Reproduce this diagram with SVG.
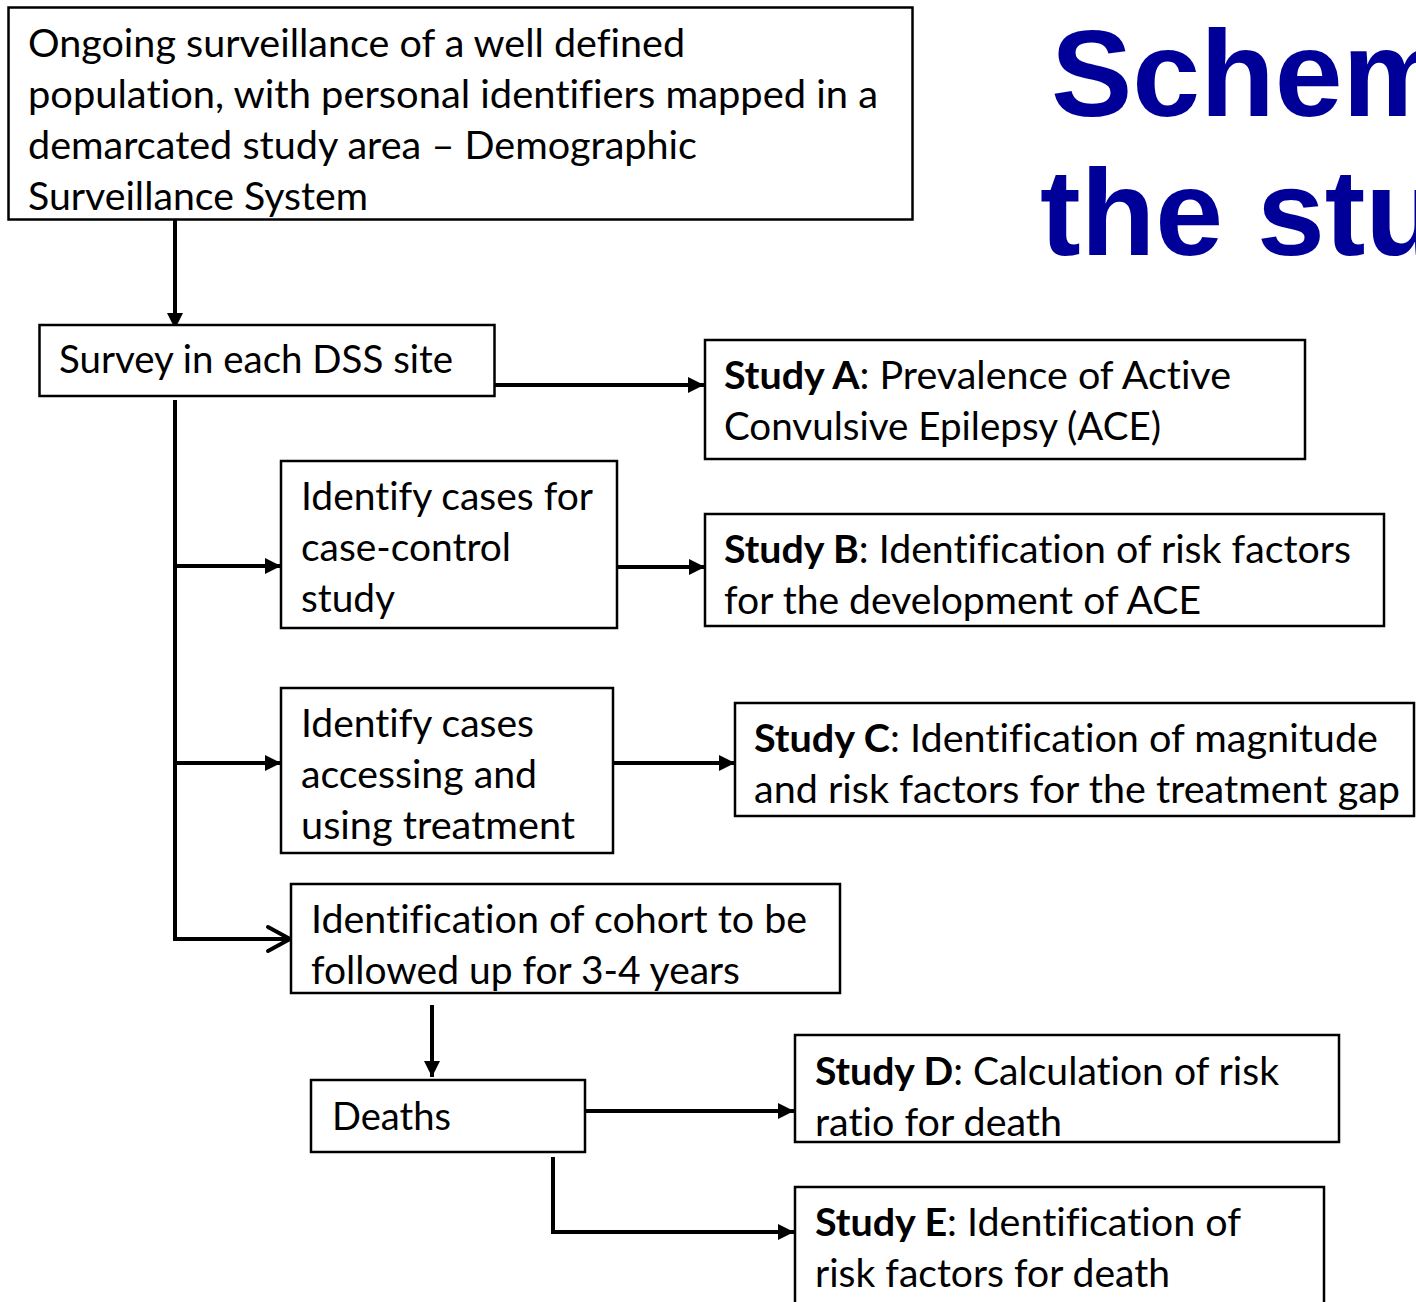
<svg xmlns="http://www.w3.org/2000/svg" width="1416" height="1302" viewBox="0 0 1416 1302">
<defs>
<style>
.box{fill:#fff;stroke:#000;stroke-width:2.5}
.t{font-family:Lato,"Open Sans","Liberation Sans",sans-serif;font-size:38px;fill:#000;font-variant-ligatures:none;font-feature-settings:"liga" 0}
.b{font-weight:bold}
.c{fill:none;stroke:#000;stroke-width:4}
.title{font-family:"Liberation Sans",Arial,sans-serif;font-weight:bold;font-size:122px;fill:#000099}
</style>
<marker id="ah" viewBox="0 0 16 16" refX="16" refY="8" markerWidth="16" markerHeight="16" markerUnits="userSpaceOnUse" orient="auto">
<path d="M0,0 L16,8 L0,16 Z" fill="#000"/>
</marker>
</defs>
<rect width="1416" height="1302" fill="#fff"/>

<g id="title">
<text class="title" x="1051" y="116">Schem</text>
<text class="title" x="1040" y="255">the stu</text>
</g>

<g id="connectors">
<line class="c" x1="175" y1="220" x2="175" y2="329" marker-end="url(#ah)"/>
<line class="c" x1="495" y1="385" x2="704" y2="385" marker-end="url(#ah)"/>
<polyline class="c" points="175,400 175,939 288,939"/>
<polyline class="c" points="268,927 290,939 268,951" stroke-linecap="round" stroke-linejoin="round"/>
<line class="c" x1="175" y1="566" x2="281" y2="566" marker-end="url(#ah)"/>
<line class="c" x1="614" y1="567" x2="705" y2="567" marker-end="url(#ah)"/>
<line class="c" x1="175" y1="763" x2="281" y2="763" marker-end="url(#ah)"/>
<line class="c" x1="614" y1="763" x2="735" y2="763" marker-end="url(#ah)"/>
<line class="c" x1="432" y1="1005" x2="432" y2="1077" marker-end="url(#ah)"/>
<line class="c" x1="585" y1="1111" x2="794" y2="1111" marker-end="url(#ah)"/>
<polyline class="c" points="553,1157 553,1232 794,1232" marker-end="url(#ah)"/>
</g>

<g id="node-dss">
<rect class="box" x="8.5" y="7.5" width="904" height="212"/>
<text class="t" x="28" y="57" textLength="657" lengthAdjust="spacingAndGlyphs">Ongoing surveillance of a well defined</text>
<text class="t" x="28" y="108" textLength="850" lengthAdjust="spacingAndGlyphs">population, with personal identifiers mapped in a</text>
<text class="t" x="28" y="159" textLength="669" lengthAdjust="spacingAndGlyphs">demarcated study area – Demographic</text>
<text class="t" x="28" y="210" textLength="340" lengthAdjust="spacingAndGlyphs">Surveillance System</text>
</g>

<g id="node-survey">
<rect class="box" x="39.5" y="325" width="455" height="71"/>
<text class="t" x="59" y="373" textLength="394" lengthAdjust="spacingAndGlyphs">Survey in each DSS site</text>
</g>

<g id="node-study-a">
<rect class="box" x="705" y="340" width="600" height="119"/>
<text class="t" x="724" y="389" textLength="507" lengthAdjust="spacingAndGlyphs"><tspan class="b">Study A</tspan>: Prevalence of Active</text>
<text class="t" x="724" y="440" textLength="437" lengthAdjust="spacingAndGlyphs">Convulsive Epilepsy (ACE)</text>
</g>

<g id="node-case-control">
<rect class="box" x="281" y="461" width="336" height="167"/>
<text class="t" x="301" y="510" textLength="292" lengthAdjust="spacingAndGlyphs">Identify cases for</text>
<text class="t" x="301" y="561" textLength="210" lengthAdjust="spacingAndGlyphs">case-control</text>
<text class="t" x="301" y="612" textLength="94" lengthAdjust="spacingAndGlyphs">study</text>
</g>

<g id="node-study-b">
<rect class="box" x="705" y="514" width="679" height="112"/>
<text class="t" x="724" y="563" textLength="627" lengthAdjust="spacingAndGlyphs"><tspan class="b">Study B</tspan>: Identification of risk factors</text>
<text class="t" x="724" y="614" textLength="477" lengthAdjust="spacingAndGlyphs">for the development of ACE</text>
</g>

<g id="node-treatment">
<rect class="box" x="281" y="688" width="332" height="165"/>
<text class="t" x="301" y="737" textLength="233" lengthAdjust="spacingAndGlyphs">Identify cases</text>
<text class="t" x="301" y="788" textLength="236" lengthAdjust="spacingAndGlyphs">accessing and</text>
<text class="t" x="301" y="839" textLength="274" lengthAdjust="spacingAndGlyphs">using treatment</text>
</g>

<g id="node-study-c">
<rect class="box" x="735" y="703" width="679" height="113"/>
<text class="t" x="754" y="752" textLength="624" lengthAdjust="spacingAndGlyphs"><tspan class="b">Study C</tspan>: Identification of magnitude</text>
<text class="t" x="754" y="803" textLength="646" lengthAdjust="spacingAndGlyphs">and risk factors for the treatment gap</text>
</g>

<g id="node-cohort">
<rect class="box" x="291" y="884" width="549" height="109"/>
<text class="t" x="311" y="933" textLength="496" lengthAdjust="spacingAndGlyphs">Identification of cohort to be</text>
<text class="t" x="311" y="984" textLength="429" lengthAdjust="spacingAndGlyphs">followed up for 3-4 years</text>
</g>

<g id="node-deaths">
<rect class="box" x="311" y="1080" width="274" height="72"/>
<text class="t" x="332" y="1130" textLength="119" lengthAdjust="spacingAndGlyphs">Deaths</text>
</g>

<g id="node-study-d">
<rect class="box" x="795" y="1035" width="544" height="107"/>
<text class="t" x="815" y="1085" textLength="464" lengthAdjust="spacingAndGlyphs"><tspan class="b">Study D</tspan>: Calculation of risk</text>
<text class="t" x="815" y="1136" textLength="247" lengthAdjust="spacingAndGlyphs">ratio for death</text>
</g>

<g id="node-study-e">
<rect class="box" x="795" y="1187" width="529" height="130"/>
<text class="t" x="815" y="1236" textLength="426" lengthAdjust="spacingAndGlyphs"><tspan class="b">Study E</tspan>: Identification of</text>
<text class="t" x="815" y="1287" textLength="355" lengthAdjust="spacingAndGlyphs">risk factors for death</text>
</g>
</svg>
